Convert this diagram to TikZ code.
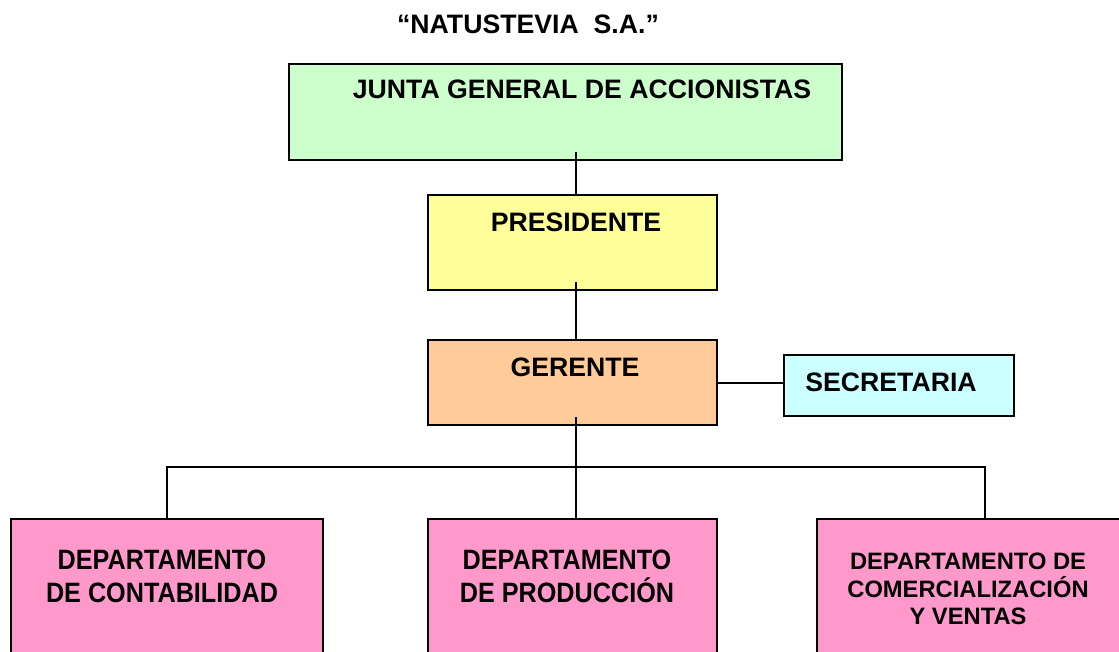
\documentclass[tikz,border=0pt]{standalone}
\usepackage{fontspec}
\setmainfont{Liberation Sans}
\newfontfamily\deptfont{Liberation Sans}[FakeStretch=0.9]
\usetikzlibrary{positioning}

\definecolor{juntafill}{HTML}{CCFFCC}
\definecolor{presfill}{HTML}{FFFF99}
\definecolor{gerfill}{HTML}{FFCC99}
\definecolor{secfill}{HTML}{CCFFFF}
\definecolor{deptfill}{HTML}{FF99CC}

\begin{document}
\begin{tikzpicture}[x=0.75pt,y=-0.75pt,
  box/.style={draw,line width=1.8pt,inner sep=0pt,anchor=north west},
  lbl/.style={font=\fontsize{20}{24}\selectfont\bfseries,inner sep=0pt,anchor=base},
  deptlbl/.style={font=\deptfont\fontsize{21}{24.75}\selectfont\bfseries,inner sep=0pt,anchor=north,align=center},
  smalllbl/.style={font=\fontsize{17.8}{20.6}\selectfont\bfseries,inner sep=0pt,anchor=north,align=center},
  link/.style={line width=1.4pt},
  stub/.style={shorten <=-6.75pt}]
  \useasboundingbox (0,0) rectangle (1119,651);
  \clip (0,0) rectangle (1119,651);

  % Title
  \node[lbl] (title) at (528,33) {“NATUSTEVIA\hspace{0.556em}S.A.”};

  % Upper levels
  \node[box,fill=juntafill,minimum width=553*0.75pt,minimum height=96*0.75pt] (junta)      at (288,63)  {};
  \node[box,fill=presfill, minimum width=289*0.75pt,minimum height=95*0.75pt] (presidente) at (427,194) {};
  \node[box,fill=gerfill,  minimum width=289*0.75pt,minimum height=85*0.75pt] (gerente)    at (427,339) {};
  \node[box,fill=secfill,  minimum width=230*0.75pt,minimum height=61*0.75pt] (secretaria) at (783,354) {};

  % Departments
  \node[box,fill=deptfill,minimum width=312*0.75pt,minimum height=200*0.75pt] (dept 1) at (10,518)  {};
  \node[box,fill=deptfill,minimum width=289*0.75pt,minimum height=200*0.75pt] (dept 2) at (427,518) {};
  \node[box,fill=deptfill,minimum width=336*0.75pt,minimum height=200*0.75pt] (dept 3) at (816,518) {};

  % Connecting lines
  \coordinate (axis) at (576,0);
  \coordinate (bus)  at (576,467);
  \path[link]
  (axis |- junta.south)      edge[stub] (axis |- presidente.north)
  (axis |- presidente.south) edge[stub] (axis |- gerente.north)
  (axis |- gerente.south)    edge[stub] (axis |- dept 2.north)
  (gerente.east)             edge (gerente.east -| secretaria.west);
  \draw[link] (dept 1.north) |- (bus) -| (dept 3.north);

  % Labels
  \node[lbl] (junta text)      at (582,98)  {JUNTA GENERAL DE ACCIONISTAS};
  \node[lbl] (presidente text) at (576,231) {PRESIDENTE};
  \node[lbl] (gerente text)    at (575,376) {GERENTE};
  \node[lbl] (secretaria text) at (891,391) {SECRETARIA};
  \node[deptlbl]  (dept 1 text) at (162,550) {DEPARTAMENTO\\DE CONTABILIDAD};
  \node[deptlbl]  (dept 2 text) at (567,550) {DEPARTAMENTO\\DE PRODUCCIÓN};
  \node[smalllbl] (dept 3 text) at (968,553) {DEPARTAMENTO DE\\COMERCIALIZACIÓN\\Y VENTAS};
\end{tikzpicture}
\end{document}
